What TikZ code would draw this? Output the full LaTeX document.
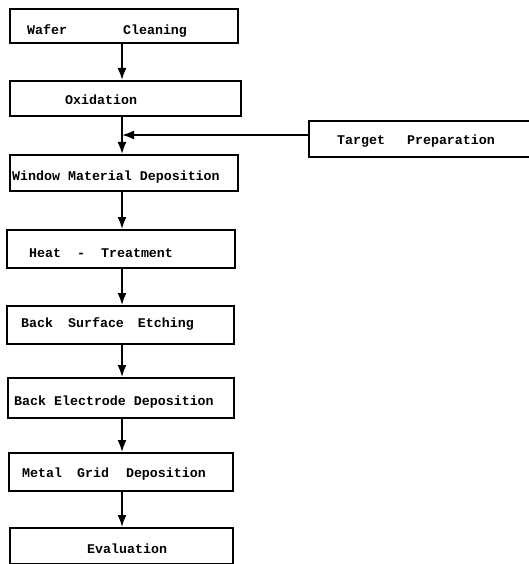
\documentclass[tikz,border=0pt]{standalone}
\usepackage{fontspec}
\setmonofont{Liberation Mono}
\usetikzlibrary{arrows.meta}
\begin{document}
\begin{tikzpicture}[x=1pt,y=-1pt,
  box/.style={draw, line width=1.8pt, inner sep=0pt, anchor=north west},
  lbl/.style={anchor=base west, inner sep=0pt, font=\ttfamily\bfseries\fontsize{13.3}{14}\selectfont},
  flow/.style={line width=1.8pt, -{Latex[length=12pt,width=9pt]}},
  plain/.style={line width=1.8pt}]
\useasboundingbox (0,0) rectangle (528,564);
% boxes
\node[box, minimum width=228pt, minimum height=34pt] (b1) at (9,8) {};
\node[box, minimum width=231pt, minimum height=35pt] (b2) at (9,80) {};
\node[box, minimum width=228pt, minimum height=36pt] (b3) at (9,154) {};
\node[box, minimum width=228pt, minimum height=38pt] (b4) at (6,229) {};
\node[box, minimum width=227pt, minimum height=38pt] (b5) at (6,305) {};
\node[box, minimum width=226pt, minimum height=40pt] (b6) at (7,377) {};
\node[box, minimum width=224pt, minimum height=38pt] (b7) at (8,452) {};
\node[box, minimum width=223pt, minimum height=36pt] (b8) at (9,527) {};
% target box (open at the right edge of the picture)
\draw[plain] (529,121) -- (309,121) -- (309,157) -- (529,157);
\coordinate (tw) at (309,135);
% labels
\node[lbl] (t1) at (27,35) {Wafer\hspace{56pt}Cleaning};
\node[lbl] (t2) at (65,105) {Oxidation};
\node[lbl] (t3) at (12,180) {Window Material Deposition};
\node[lbl] (tt) at (337,145) {Target\hspace{22pt}Preparation};
\node[lbl] (t4) at (29,257) {Heat\hspace{16pt}-\hspace{16pt}Treatment};
\node[lbl] (t5) at (21,327) {Back\hspace{15pt}Surface\hspace{14pt}Etching};
\node[lbl] (t6) at (14,405) {Back Electrode Deposition};
\node[lbl] (t7) at (22,477) {Metal\hspace{15pt}Grid\hspace{17pt}Deposition};
\node[lbl] (t8) at (87,553) {Evaluation};
% connectors
\coordinate (ax) at (122,0);
\coordinate (j) at (122,135);
\draw[flow] (b1.south -| ax) -- (b2.north -| ax);
\draw[plain] (b2.south -| ax) -- (j);
\draw[flow] (j) -- (b3.north -| ax);
\draw[flow] (tw) -- (j);
\draw[flow] (b3.south -| ax) -- (b4.north -| ax);
\draw[flow] (b4.south -| ax) -- (b5.north -| ax);
\draw[flow] (b5.south -| ax) -- (b6.north -| ax);
\draw[flow] (b6.south -| ax) -- (b7.north -| ax);
\draw[flow] (b7.south -| ax) -- (b8.north -| ax);
\end{tikzpicture}
\end{document}
